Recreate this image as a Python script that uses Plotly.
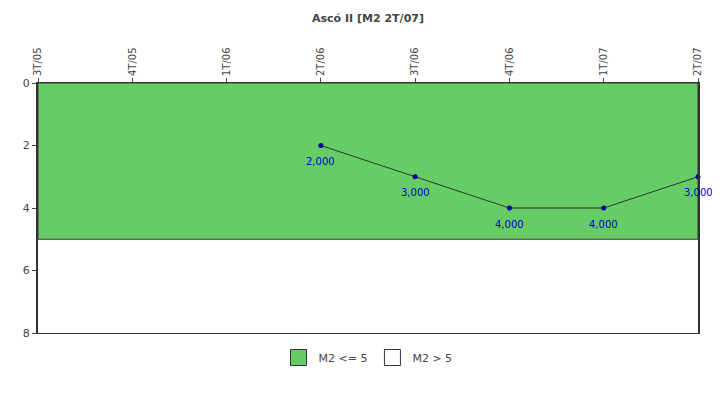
import plotly.graph_objects as go

categories = ["3T/05", "4T/05", "1T/06", "2T/06", "3T/06", "4T/06", "1T/07", "2T/07"]
point_idx = [3, 4, 5, 6, 7]
values = [2, 3, 4, 4, 3]
labels = ["2,000", "3,000", "4,000", "4,000", "3,000"]
threshold = 5
ymax = 8

fig = go.Figure()
fig.add_shape(type="rect", xref="x", yref="y", x0=0, x1=7, y0=0, y1=threshold,
              fillcolor="#66CC66", line=dict(color="#333333", width=1), layer="below")
fig.add_trace(go.Scatter(x=point_idx, y=values, mode="lines+markers",
                         line=dict(color="#333333", width=1),
                         marker=dict(color="#000099", size=5), showlegend=False, cliponaxis=False))
for xi, yi, t in zip(point_idx, values, labels):
    fig.add_annotation(x=xi, y=yi, text=t, showarrow=False, yshift=-16,
                       font=dict(color="#0000CC", size=10, family="DejaVu Sans"))
fig.add_trace(go.Scatter(x=[None], y=[None], mode="markers", name="M2 <= 5",
                         marker=dict(symbol="square", size=20, color="#66CC66", line=dict(color="#333", width=1))))
fig.add_trace(go.Scatter(x=[None], y=[None], mode="markers", name="M2 > 5",
                         marker=dict(symbol="square", size=20, color="white", line=dict(color="#333", width=1))))
fig.update_layout(
    width=720, height=400, margin=dict(l=30, r=30, t=75, b=75, autoexpand=False),
    plot_bgcolor="white", paper_bgcolor="white",
    font=dict(family="DejaVu Sans", size=10, color="#444"),
    title=dict(text="<b>Ascó II [M2 2T/07]</b>", x=0.5, y=0.985, yanchor="top", font=dict(size=11, color="#444")),
    legend=dict(orientation="h", x=0.5, xanchor="center", y=-0.04, yanchor="top", font=dict(size=11)),
    xaxis=dict(side="top", range=[0, 7], tickmode="array", tickvals=list(range(8)), ticktext=categories,
               tickangle=-90, showgrid=False, showline=True, linecolor="#333", mirror=True,
               ticks="outside", ticklen=4, zeroline=False, automargin=False),
    yaxis=dict(range=[ymax, 0], tickvals=[0, 2, 4, 6, 8], showgrid=False, showline=True,
               linecolor="#333", linewidth=2, mirror=True, ticks="outside", ticklen=4, zeroline=False,
               tickfont=dict(size=11), automargin=False),
)
fig.write_html("out.html")
